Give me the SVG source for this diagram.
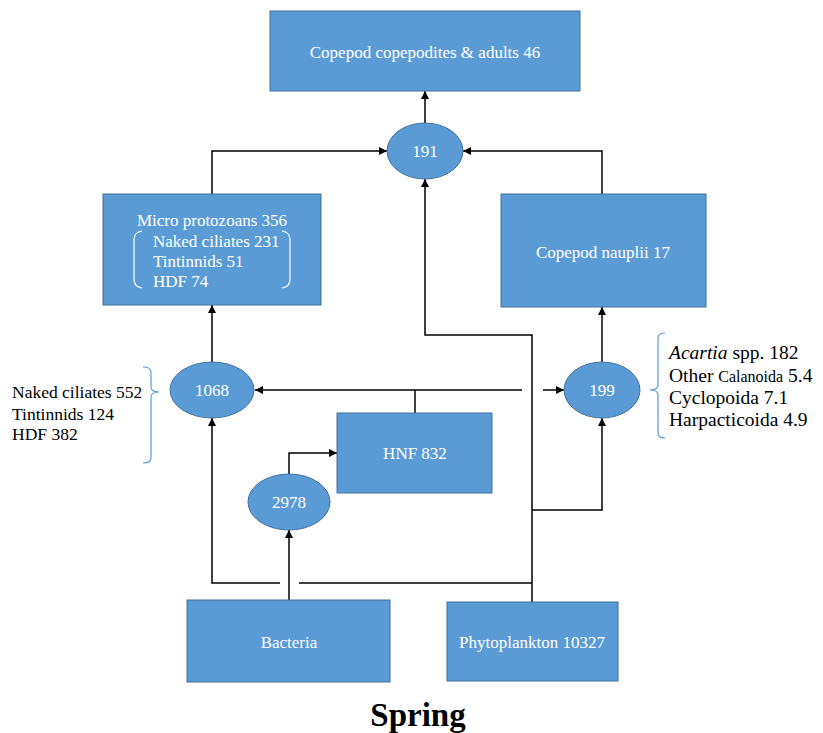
<svg xmlns="http://www.w3.org/2000/svg" width="823" height="733" viewBox="0 0 823 733">
<defs>
<marker id="ah" viewBox="0 0 10 10" refX="10" refY="5" markerWidth="8" markerHeight="8" markerUnits="userSpaceOnUse" orient="auto">
<path d="M0,0 L10,5 L0,10 z" fill="#000"/>
</marker>
<style>
.box{fill:#5B9BD5;stroke:#41719C;stroke-width:1}
.wt{fill:#fff;font-family:"Liberation Serif","Times New Roman",serif;font-size:17px}
.bt{fill:#000;font-family:"Liberation Serif","Times New Roman",serif}
.cn{fill:none;stroke:#000;stroke-width:1.5}
.ar{fill:none;stroke:#000;stroke-width:1.5;marker-end:url(#ah)}
.br{fill:none;stroke:#5B9BD5;stroke-width:1.2}
.wb{fill:none;stroke:#fff;stroke-width:1.2}
</style>
</defs>
<rect width="823" height="733" fill="#fff"/>
<g id="connectors">
<path class="ar" d="M425,123 V91"/>
<path class="ar" d="M212,194 V151 H387"/>
<path class="ar" d="M602,194 V151 H463"/>
<path class="ar" d="M212,362 V305"/>
<path class="ar" d="M602,362 V307"/>
<path class="ar" d="M522,390 H255"/>
<path class="ar" d="M543,390 H564"/>
<path class="cn" d="M415,413 V390"/>
<path class="ar" d="M532,602 V335 H425 V179"/>
<path class="ar" d="M532,510 H602 V418"/>
<path class="cn" d="M532,583 H299"/>
<path class="ar" d="M280,583 H212 V418"/>
<path class="ar" d="M289,600 V530"/>
<path class="ar" d="M289,474 V453 H337"/>
</g>
<g id="copepodites">
<rect class="box" x="270" y="11" width="310" height="80"/>
<text class="wt" x="425" y="58" text-anchor="middle">Copepod copepodites &amp; adults 46</text>
</g>
<g id="n191">
<ellipse class="box" cx="425" cy="151" rx="38" ry="28"/>
<text class="wt" x="425" y="157" text-anchor="middle">191</text>
</g>
<g id="microprotozoans">
<rect class="box" x="103" y="194" width="218" height="111"/>
<text class="wt" x="212" y="226" text-anchor="middle">Micro protozoans 356</text>
<text class="wt" x="153" y="247">Naked ciliates 231</text>
<text class="wt" x="153" y="267">Tintinnids 51</text>
<text class="wt" x="153" y="287">HDF 74</text>
<path class="wb" d="M142,231 Q134,232 134,240 V279 Q134,287 142,288"/>
<path class="wb" d="M282,231 Q290,232 290,240 V279 Q290,287 282,288"/>
</g>
<g id="nauplii">
<rect class="box" x="501" y="194" width="205" height="113"/>
<text class="wt" x="603" y="258" text-anchor="middle">Copepod nauplii 17</text>
</g>
<g id="n1068">
<ellipse class="box" cx="212" cy="390" rx="42" ry="28"/>
<text class="wt" x="212" y="396" text-anchor="middle">1068</text>
</g>
<g id="left-annotation">
<text class="bt" x="12" y="398" font-size="17.5">Naked ciliates 552</text>
<text class="bt" x="12" y="420" font-size="17.5">Tintinnids 124</text>
<text class="bt" x="12" y="440" font-size="17.5">HDF 382</text>
<path class="br" d="M143,367 Q151,367 151,372 V387 Q151,392 159,392 Q151,392 151,397 V458 Q151,463 143,463"/>
</g>
<g id="n199">
<ellipse class="box" cx="602" cy="390" rx="38" ry="28"/>
<text class="wt" x="602" y="396" text-anchor="middle">199</text>
</g>
<g id="right-annotation">
<text class="bt" x="669" y="359" font-size="19.5"><tspan font-style="italic">Acartia</tspan> spp. 182</text>
<text class="bt" x="669" y="382" font-size="19.5">Other <tspan font-size="16">Calanoida</tspan> 5.4</text>
<text class="bt" x="669" y="404" font-size="19.5">Cyclopoida 7.1</text>
<text class="bt" x="669" y="426" font-size="19.5">Harpacticoida 4.9</text>
<path class="br" d="M665,333 Q658,333 658,338 V385 Q658,390 650,390 Q658,390 658,395 V433 Q658,438 665,438"/>
</g>
<g id="hnf">
<rect class="box" x="337" y="413" width="155" height="80"/>
<text class="wt" x="415" y="459" text-anchor="middle">HNF 832</text>
</g>
<g id="n2978">
<ellipse class="box" cx="289" cy="502" rx="41" ry="28"/>
<text class="wt" x="289" y="508" text-anchor="middle">2978</text>
</g>
<g id="bacteria">
<rect class="box" x="187" y="600" width="203" height="82"/>
<text class="wt" x="289" y="648" text-anchor="middle">Bacteria</text>
</g>
<g id="phytoplankton">
<rect class="box" x="447" y="602" width="171" height="79"/>
<text class="wt" x="532" y="648" text-anchor="middle">Phytoplankton 10327</text>
</g>
<text class="bt" x="418" y="726" font-size="33" font-weight="bold" text-anchor="middle">Spring</text>
</svg>
